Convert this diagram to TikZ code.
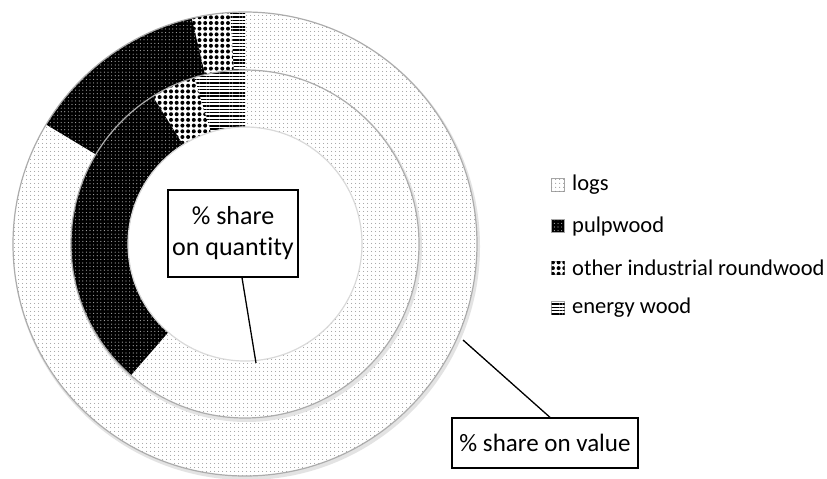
\documentclass[tikz,border=0pt]{standalone}
\usepackage{fontspec}
\setmainfont{Carlito}[Ligatures={NoCommon}]
\usetikzlibrary{patterns.meta}
\tikzset{
  logs/.style={fill=white, postaction={pattern={Dots[radius=0.6pt,distance=4pt]}, pattern color=gray!90}},
  pulp/.style={fill=black, postaction={pattern={Dots[radius=0.6pt,distance=3.6pt]}, pattern color=gray!65}},
  other/.style={fill=white, postaction={pattern={Dots[radius=2pt,distance=5.7pt]}, pattern color=black}},
  energy/.style={fill=white, postaction={pattern={Lines[angle=0,distance=3.3pt,line width=1.4pt]}, pattern color=black}},
  box/.style={draw=black, line width=1.3pt, fill=white, align=center, inner sep=2pt},
  legtext/.style={anchor=west, font=\fontsize{22.5}{27}\selectfont, inner sep=0pt},
  legmark/.style={minimum size=13, inner sep=0pt, draw=gray!70, line width=0.4pt},
  conn/.style={line width=1.3pt, draw=black},
  ringedge/.style={draw=gray!65, line width=1.2pt},
  shade ring/.style={fill=gray!22, even odd rule},
}
\newcommand{\ringsec}[5]{\path[#5] (#1:#4) arc[start angle=#1,end angle=#2,radius=#4] -- (#2:#3) arc[start angle=#2,end angle=#1,radius=#3] -- cycle;}
\begin{document}
\begin{tikzpicture}[x=1pt,y=1pt]
\useasboundingbox (0,0) rectangle (827,-479);
\fill[white] (0,0) rectangle (827,-479);
\begin{scope}[shift={(245,-244)}]
  % soft shadows
  \path[shade ring] (1.5,-2.5) circle[radius=233.5] (0,0) circle[radius=174];
  % outer ring: share on value
  \ringsec{-211}{90}{174}{232}{logs}
  \ringsec{90}{93.7}{174}{232}{energy}
  \ringsec{93.7}{103.3}{174}{232}{other}
  \ringsec{103.3}{149}{174}{232}{pulp}
  \path[ringedge] (0,0) circle[radius=232];
  \path[shade ring] (1.5,-2.5) circle[radius=175.5] (0,0) circle[radius=117];
  % inner ring: share on quantity
  \ringsec{-131}{90}{117}{174}{logs}
  \ringsec{90}{107}{117}{174}{energy}
  \ringsec{107}{122}{117}{174}{other}
  \ringsec{122}{229}{117}{174}{pulp}
  \path[ringedge] (0,0) circle[radius=174];
  \path[ringedge, draw=gray!30] (0,0) circle[radius=117];
\end{scope}
% labels
\node[box, font=\fontsize{26}{31}\selectfont, minimum width=130, minimum height=87] (q) at (233,-233.5) {\% share\\on quantity};
\coordinate (qend) at (256,-363);
\draw[conn] ([xshift=9]q.south) -- (qend);
\node[box, font=\fontsize{25}{30}\selectfont, minimum width=186, minimum height=50] (v) at (545,-443) {\% share on value};
\coordinate (vend) at (463,-340);
\draw[conn] ([xshift=5]v.north) -- (vend);
% legend
\node[legmark, logs] (m1) at (558,-185) {};
\node[legtext] (t1) at (572,-185) {logs};
\node[legmark, pulp] (m2) at (558,-226) {};
\node[legtext] (t2) at (572,-226) {pulpwood};
\node[legmark, other] (m3) at (558,-268) {};
\node[legtext] (t3) at (572,-268) {other industrial roundwood};
\node[legmark, energy] (m4) at (558,-308) {};
\node[legtext] (t4) at (572,-308) {energy wood};
\end{tikzpicture}
\end{document}
